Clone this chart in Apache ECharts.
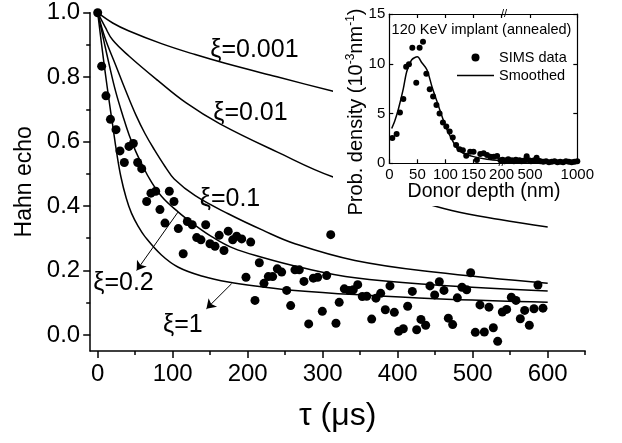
<!DOCTYPE html>
<html><head><meta charset="utf-8">
<script src="https://cdn.jsdelivr.net/npm/echarts@6/dist/echarts.min.js"></script>
<style>html,body{margin:0;padding:0;background:#fff}#c{width:622px;height:443px}</style>
</head><body><div id="c"></div>
<script>
const FONT = "'Liberation Sans', Arial, sans-serif";

// ---- main panel: Hahn echo data ----
const tauData = [
  0, 5.3, 11, 17, 24.4, 29.7, 35.5, 41.7, 47.5, 53.3,
  58.7, 65.3, 71, 77.3, 83, 89.7, 95.5, 101.7, 107.5, 114,
  119.5, 126, 132, 137.7, 144, 149.7, 156.4, 162, 168.4, 174,
  180, 185.3, 192, 197.7, 204, 209.7, 215.5, 221.7, 227.5, 233.3,
  239.5, 245.3, 252, 257.3, 263, 268.8, 275, 281.3, 287.5, 293.3,
  299.5, 305.3, 310.7, 317.7, 322, 328.8, 335, 340.8, 346.7, 352.8,
  358.7, 365.3, 371, 377.3, 383.5, 389.7, 395.5, 401.3, 407.5, 413.3,
  419.5, 425.3, 431, 437.3, 443, 449.3, 455.5, 461.7, 467.5, 473.3,
  479.5, 485.7, 492, 497.3, 503.5, 509.7, 515.5, 521.7, 527.5, 533.3,
  539.5, 545.3, 551.5, 557.7, 563.5, 569.3, 575.5, 581.7, 587, 593.7
];
const echoData = [
  1.0, 0.834, 0.742, 0.669, 0.637, 0.571, 0.535, 0.585, 0.594, 0.535,
  0.516, 0.414, 0.44, 0.446, 0.389, 0.347, 0.446, 0.414, 0.33, 0.252,
  0.352, 0.342, 0.302, 0.295, 0.342, 0.283, 0.275, 0.309, 0.262, 0.322,
  0.295, 0.306, 0.298, 0.179, 0.288, 0.107, 0.224, 0.16, 0.181, 0.181,
  0.205, 0.195, 0.138, 0.091, 0.202, 0.202, 0.166, 0.034, 0.176, 0.179,
  0.073, 0.184, 0.311, 0.036, 0.101, 0.143, 0.138, 0.14, 0.156, 0.119,
  0.12, 0.049, 0.114, 0.129, 0.078, 0.152, 0.07, 0.011, 0.019, 0.089,
  0.135, 0.016, 0.048, 0.03, 0.152, 0.124, 0.165, 0.138, 0.052, 0.032,
  0.115, 0.148, 0.14, 0.193, 0.008, 0.093, 0.009, 0.086, 0.022, -0.02,
  0.071, 0.079, 0.117, 0.107, 0.05, 0.076, 0.03, 0.081, 0.155, 0.083
];

// theory curves
const xi0001T = [0, 20, 41, 85, 130, 170, 239, 314, 360];
const xi0001V = [1, 0.968, 0.944, 0.904, 0.870, 0.843, 0.801, 0.756, 0.73];
const xi001T = [0, 10, 20, 42, 80, 118, 163, 239, 314, 400, 472, 536, 600];
const xi001V = [1, 0.955, 0.915, 0.865, 0.79, 0.72, 0.655, 0.568, 0.49, 0.434, 0.386, 0.358, 0.335];
const xi01T = [0, 10, 24, 37, 51, 63, 75.5, 90, 102, 130, 174, 220, 263, 343, 448, 600];
const xi01V = [1, 0.92, 0.837, 0.76, 0.682, 0.625, 0.575, 0.522, 0.484, 0.432, 0.376, 0.325, 0.283, 0.231, 0.195, 0.16];
const xi02T = [0, 8, 15.5, 24, 33.3, 42, 51, 61, 69, 85, 107.5, 130, 152, 180, 218.7, 270, 343, 450, 600];
const xi02V = [1, 0.915, 0.837, 0.755, 0.682, 0.62, 0.568, 0.52, 0.485, 0.43, 0.381, 0.34, 0.305, 0.27, 0.241, 0.21, 0.177, 0.155, 0.136];
const xi1T = [0, 5, 10, 15, 20, 25, 31, 38, 45, 54, 63, 85, 107.5, 140, 174, 220, 263, 343, 450, 600];
const xi1V = [1, 0.905, 0.815, 0.73, 0.65, 0.57, 0.49, 0.425, 0.378, 0.337, 0.305, 0.248, 0.21, 0.182, 0.164, 0.149, 0.138, 0.125, 0.112, 0.101];

// tick labels
const xTickLabels = [0, 100, 200, 300, 400, 500, 600];
const xMinorTicks = [50, 150, 250, 350, 450, 550, 650];
const yTickLabels = [0.0, 0.2, 0.4, 0.6, 0.8, 1.0];
const yMinorTicks = [0.1, 0.3, 0.5, 0.7, 0.9];

// annotations (data coordinates)
const xiLabelText = ['ξ=0.001', 'ξ=0.01', 'ξ=0.1', 'ξ=0.2', 'ξ=1'];
const xiLabelT = [150, 154, 136, -6, 87];
const xiLabelV = [0.884, 0.688, 0.421, 0.16, 0.029];
const arrowFrom = [[107, 0.381], [178.6, 0.159]];
const arrowTo = [[52, 0.2], [145, 0.081]];

// ---- inset: donor depth profile ----
const simsDepth = [5.4, 13, 19, 25, 30, 35, 41, 48, 54, 60, 66, 72, 78, 84, 89.5, 95.5, 101.5, 107.5, 113, 119,
  125, 131, 137, 144, 150, 156, 162, 168, 174, 180, 186, 192, 198,
  210, 230, 250, 270, 290, 310, 330, 350, 370, 390, 410, 430, 450, 465, 490, 510, 530, 550, 570, 590,
  610, 640, 670, 700, 730, 760, 790, 820, 850, 880, 910, 940, 970, 1000];
const simsDensity = [2.55, 2.95, 5.1, 6.45, 9.7, 9.95, 11.6, 8.1, 11.6, 12.2, 9.0, 7.45, 6.7, 5.85, 5.0, 4.1, 3.7, 3.2, 2.6, 1.85,
  1.4, 1.3, 0.77, 1.17, 1.17, 0.34, 0.94, 1.0, 0.84, 0.67, 0.67, 0.74, 0.3,
  0.35, 0.2, 0.3, 0.4, 0.25, 0.3, 0.2, 0.35, 0.25, 0.3, 0.2, 0.25, 0.3, 0.7, 0.3, 0.2, 0.25, 0.3, 0.55, 0.25,
  0.2, 0.15, 0.2, 0.1, 0.15, 0.2, 0.1, 0.15, 0.1, 0.2, 0.15, 0.1, 0.15, 0.2];
const smoothDepth = [4.3, 10, 16, 25, 31, 40, 50, 58, 67, 76, 85, 94, 103, 112, 120.5, 132, 150, 174, 200,
  300, 400, 500, 600, 700, 800, 900, 1000];
const smoothDensity = [3.5, 4.3, 5.4, 7.5, 9.2, 10.4, 10.7, 10.1, 9.4, 7.7, 6.2, 4.7, 3.35, 2.35, 1.5, 1.0, 0.67, 0.4, 0.25,
  0.2, 0.2, 0.25, 0.2, 0.15, 0.1, 0.1, 0.1];
const insetXLabelsA = [0, 50, 100, 150, 200];
const insetXLabelsB = [500, 1000];
const insetYLabels = [0, 5, 10, 15];

// ---------- build ----------
const zip = (a, b) => a.map((v, i) => [v, b[i]]);
const BREAK = 200;
const simsPts = zip(simsDepth, simsDensity);
const smoothPts = zip(smoothDepth, smoothDensity);

const txt = (size) => ({ fontFamily: FONT, fontSize: size, color: '#000' });
const blackLine = (w) => ({ lineStyle: { color: '#000', width: w } });
const BLACK = { color: '#000', opacity: 1 };

function curve(name, T, V) {
  return {
    name, type: 'line', xAxisIndex: 0, yAxisIndex: 0, data: zip(T, V),
    showSymbol: false, symbol: 'none', smooth: 0.4, clip: false,
    lineStyle: { color: '#000', width: 1.5, opacity: 1 }, itemStyle: BLACK, z: 2, silent: true
  };
}

const chart = echarts.init(document.getElementById('c'), null, { renderer: 'canvas' });
const IZ = 20;
const insetTick = (vals) => ({ show: true, inside: true, length: 4, customValues: vals, lineStyle: { color: '#000', width: 1.2 } });

chart.setOption({
  animation: false,
  backgroundColor: '#fff',
  grid: [
    { left: 90.2, right: 36.8, top: 12.7, bottom: 92, containLabel: false },
    { left: 389.3, top: 14, width: 112.3, height: 149.3, containLabel: false },
    { left: 501.6, top: 14, width: 75.7, height: 149.3, containLabel: false }
  ],
  xAxis: [
    { gridIndex: 0, type: 'value', min: -10, max: 650, position: 'bottom',
      axisLine: { show: true, onZero: false, ...blackLine(1.5) },
      axisTick: { show: true, length: 7, customValues: xTickLabels, lineStyle: { color: '#000', width: 1.5 } },
      axisLabel: { show: true, customValues: xTickLabels, margin: 11, ...txt(24) },
      splitLine: { show: false },
      name: 'τ (μs)', nameLocation: 'middle', nameGap: 49, nameTextStyle: txt(32) },
    { gridIndex: 0, type: 'value', min: -10, max: 650, position: 'bottom',
      axisLine: { show: false, onZero: false },
      axisTick: { show: true, length: 4, customValues: xMinorTicks, lineStyle: { color: '#000', width: 1.5 } },
      axisLabel: { show: false }, splitLine: { show: false } },
    { gridIndex: 1, type: 'value', min: 0, max: BREAK, position: 'bottom', z: IZ,
      axisLine: { show: true, onZero: false, ...blackLine(1.2) },
      axisTick: insetTick(insetXLabelsA),
      axisLabel: { show: true, customValues: insetXLabelsA, margin: 4, formatter: v => String(v), ...txt(15) },
      splitLine: { show: false } },
    { gridIndex: 1, type: 'value', min: 0, max: BREAK, position: 'top', z: IZ,
      axisLine: { show: true, onZero: false, ...blackLine(1.2) },
      axisTick: insetTick(insetXLabelsA), axisLabel: { show: false }, splitLine: { show: false } },
    { gridIndex: 2, type: 'value', min: BREAK, max: 1000, position: 'bottom', z: IZ,
      axisLine: { show: true, onZero: false, ...blackLine(1.2) },
      axisTick: insetTick(insetXLabelsB),
      axisLabel: { show: true, customValues: insetXLabelsB, margin: 4, formatter: v => String(v), ...txt(15) },
      splitLine: { show: false } },
    { gridIndex: 2, type: 'value', min: BREAK, max: 1000, position: 'top', z: IZ,
      axisLine: { show: true, onZero: false, ...blackLine(1.2) },
      axisTick: insetTick(insetXLabelsB), axisLabel: { show: false }, splitLine: { show: false } }
  ],
  yAxis: [
    { gridIndex: 0, type: 'value', min: -0.05, max: 1.0, position: 'left',
      axisLine: { show: true, onZero: false, ...blackLine(1.5) },
      axisTick: { show: true, length: 7, customValues: yTickLabels, lineStyle: { color: '#000', width: 1.5 } },
      axisLabel: { show: true, customValues: yTickLabels, margin: 10, formatter: v => v.toFixed(1), ...txt(24) },
      splitLine: { show: false },
      name: 'Hahn echo', nameLocation: 'middle', nameGap: 50, nameTextStyle: txt(23) },
    { gridIndex: 0, type: 'value', min: -0.05, max: 1.0, position: 'left',
      axisLine: { show: false, onZero: false },
      axisTick: { show: true, length: 4, customValues: yMinorTicks, lineStyle: { color: '#000', width: 1.5 } },
      axisLabel: { show: false }, splitLine: { show: false } },
    { gridIndex: 1, type: 'value', min: 0, max: 15, position: 'left', z: IZ,
      axisLine: { show: true, onZero: false, ...blackLine(1.2) },
      axisTick: insetTick(insetYLabels),
      axisLabel: { show: true, customValues: insetYLabels, margin: 4, ...txt(15) },
      splitLine: { show: false } },
    { gridIndex: 2, type: 'value', min: 0, max: 15, position: 'right', z: IZ,
      axisLine: { show: true, onZero: false, ...blackLine(1.2) },
      axisTick: insetTick(insetYLabels), axisLabel: { show: false }, splitLine: { show: false } }
  ],
  legend: {
    data: [
      { name: 'SIMS data', icon: 'circle' },
      { name: 'Smoothed', icon: 'path://M0,0 L100,0 L100,4 L0,4 Z' }
    ],
    orient: 'vertical', left: 452, top: 45, z: IZ + 3,
    itemWidth: 37, itemHeight: 8, itemGap: 3, textStyle: txt(14.5), selectedMode: false,
    itemStyle: { color: '#000', opacity: 1 }
  },
  graphic: {
    elements: [
      { type: 'rect', z: 10, silent: true, shape: { x: 333, y: 0, width: 289, height: 206 }, style: { fill: '#fff' } },
      { type: 'text', z: IZ + 5, x: 481.5, y: 30, silent: true,
        style: { text: '120 KeV implant (annealed)', fontFamily: FONT, fontSize: 14.5, fill: '#000', align: 'center', verticalAlign: 'middle' } },
      { type: 'text', z: IZ + 5, x: 484, y: 192, silent: true,
        style: { text: 'Donor depth (nm)', fontFamily: FONT, fontSize: 19.5, fill: '#000', align: 'center', verticalAlign: 'middle' } },
      { type: 'text', z: IZ + 5, x: 356, y: 112, rotation: Math.PI / 2, silent: true,
        style: { text: '{a|Prob. density (10}{s|-3}{a|nm}{s|-1}{a|)}', fill: '#000', align: 'center', verticalAlign: 'middle',
          rich: { a: { fontFamily: FONT, fontSize: 20, lineHeight: 22, fill: '#000' },
                  s: { fontFamily: FONT, fontSize: 12, lineHeight: 22, verticalAlign: 'top', fill: '#000' } } } },
      { type: 'text', z: IZ + 6, x: 504, y: 14, silent: true,
        style: { text: '//', fontFamily: FONT, fontSize: 11, fill: '#000', align: 'center', verticalAlign: 'middle' } },
      { type: 'text', z: IZ + 6, x: 501.6, y: 163.3, silent: true,
        style: { text: '//', fontFamily: FONT, fontSize: 11, fill: '#000', align: 'center', verticalAlign: 'middle' } }
    ]
  },
  series: [
    curve('xi0001', xi0001T, xi0001V),
    curve('xi001', xi001T, xi001V),
    curve('xi01', xi01T, xi01V),
    curve('xi02', xi02T, xi02V),
    curve('xi1', xi1T, xi1V),
    { name: 'echo', type: 'scatter', xAxisIndex: 0, yAxisIndex: 0, data: zip(tauData, echoData),
      symbol: 'circle', symbolSize: 9, itemStyle: BLACK, clip: false, z: 3, silent: true },
    { name: 'annot', type: 'scatter', xAxisIndex: 0, yAxisIndex: 0, clip: false, z: 4, silent: true,
      symbolSize: 0, itemStyle: { color: '#000', opacity: 1 },
      data: xiLabelT.map((t, i) => ({ value: [t, xiLabelV[i]], label: { formatter: xiLabelText[i] } })),
      label: { show: true, position: 'right', distance: 0, opacity: 1, ...txt(25) },
      markLine: {
        silent: true, symbol: ['none', 'arrow'], symbolSize: 9, animation: false,
        lineStyle: { color: '#000', width: 1, type: 'solid', opacity: 1 }, label: { show: false },
        data: arrowFrom.map((f, i) => [{ coord: f }, { coord: arrowTo[i] }])
      } },
    { name: 'SIMS data', type: 'scatter', xAxisIndex: 2, yAxisIndex: 2, z: IZ + 1, silent: true,
      data: simsPts.filter(p => p[0] <= BREAK), symbol: 'circle', symbolSize: 6, itemStyle: BLACK },
    { name: 'SIMS data', type: 'scatter', xAxisIndex: 4, yAxisIndex: 3, z: IZ + 1, silent: true,
      data: simsPts.filter(p => p[0] >= BREAK), symbol: 'circle', symbolSize: 6, itemStyle: BLACK },
    { name: 'Smoothed', type: 'line', xAxisIndex: 2, yAxisIndex: 2, z: IZ + 1, silent: true,
      data: smoothPts.filter(p => p[0] <= BREAK), symbol: 'none', showSymbol: false, smooth: 0.3,
      lineStyle: { color: '#000', width: 1.5 }, itemStyle: BLACK },
    { name: 'Smoothed', type: 'line', xAxisIndex: 4, yAxisIndex: 3, z: IZ + 1, silent: true,
      data: smoothPts.filter(p => p[0] >= BREAK), symbol: 'none', showSymbol: false, smooth: 0.3,
      lineStyle: { color: '#000', width: 1.5 }, itemStyle: BLACK }
  ]
});
</script></body></html>
